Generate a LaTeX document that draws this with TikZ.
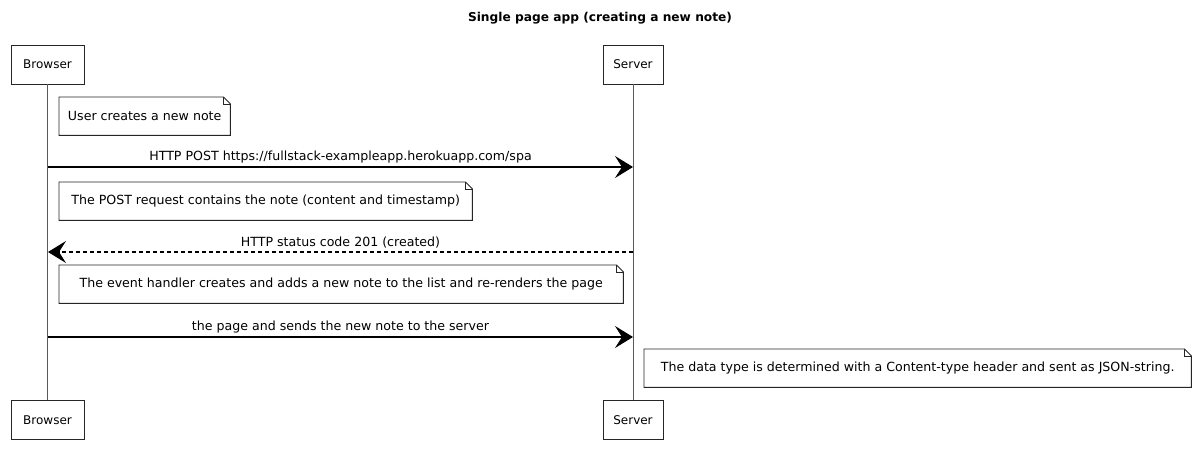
\documentclass[tikz,border=0pt]{standalone}
\usepackage{fontspec}
\setmainfont{DejaVu Sans}
\usetikzlibrary{arrows.meta,calc}

\newcommand{\dogear}[1]{%
  \draw[noteline] (#1.south west) -- (#1.north west) -- ([xshift=-7pt]#1.north east)
    -- ([yshift=-7pt]#1.north east) -- (#1.south east) -- cycle;
  \draw[noteline, line width=0.5pt] ([xshift=-7pt]#1.north east) -- ([xshift=-7pt,yshift=-7pt]#1.north east)
    -- ([yshift=-7pt]#1.north east);
}

\tikzset{
  txt/.style={font=\fontsize{12.6}{15}\selectfont},
  actor/.style={draw=black!85, fill=white, line width=0.9pt, minimum height=39pt,
    inner sep=0pt, font=\fontsize{12}{14}\selectfont},
  lifeline/.style={draw=black!65, line width=0.8pt},
  notetext/.style={anchor=north west, minimum height=38pt, inner sep=0pt, txt},
  noteline/.style={draw=black!85, line width=0.9pt},
  msg/.style={draw=black, line width=1.1pt,
    -{Stealth[length=18pt,width=22pt,inset=7pt]}},
  reply/.style={msg, dashed, dash pattern=on 4pt off 3pt},
  msglabel/.style={txt, midway, above, inner sep=2pt, yshift=1pt}
}

\begin{document}
\begin{tikzpicture}[x=1pt, y=-1pt]
  \useasboundingbox[fill=white] (0,0) rectangle (1200,459);

  % title
  \node[font=\fontsize{12.2}{15}\selectfont\bfseries] (title) at (600,18)
    {Single page app (creating a new note)};

  % participants
  \node[actor, minimum width=73pt] (browserTop) at (47.5,64.5) {Browser};
  \node[actor, minimum width=60pt] (serverTop)  at (633,64.5)  {Server};
  \node[actor, minimum width=73pt] (browserBot) at (47.5,420) {Browser};
  \node[actor, minimum width=60pt] (serverBot)  at (633,420)  {Server};

  % lifelines
  \draw[lifeline] (browserTop.south) -- (browserBot.north);
  \draw[lifeline] (serverTop.south) -- (serverBot.north);

  % message anchors on the lifelines
  \coordinate (b1) at (48,167);  \coordinate (s1) at (633,167);
  \coordinate (b2) at (48,252);  \coordinate (s2) at (633,252);
  \coordinate (b3) at (48,337);  \coordinate (s3) at (633,337);

  % notes
  \node[notetext, minimum width=171pt] (n1) at (59,97)  {User creates a new note};
  \dogear{n1}
  \node[notetext, minimum width=413pt] (n2) at (59,182)
    {The POST request contains the note (content and timestamp)};
  \dogear{n2}
  \node[notetext, minimum width=564pt] (n3) at (59,265)
    {The event handler creates and adds a new note to the list and re-renders the page};
  \dogear{n3}
  \node[notetext, minimum width=547pt] (n4) at (644,349)
    {The data type is determined with a Content-type header and sent as JSON-string.};
  \dogear{n4}

  % messages
  \draw[msg] (b1) -- node[msglabel] {HTTP POST https://fullstack-exampleapp.herokuapp.com/spa} (s1);
  \draw[reply] (s2) -- node[msglabel] {HTTP status code 201 (created)} (b2);
  \draw[msg] (b3) -- node[msglabel] {the page and sends the new note to the server} (s3);
\end{tikzpicture}
\end{document}
